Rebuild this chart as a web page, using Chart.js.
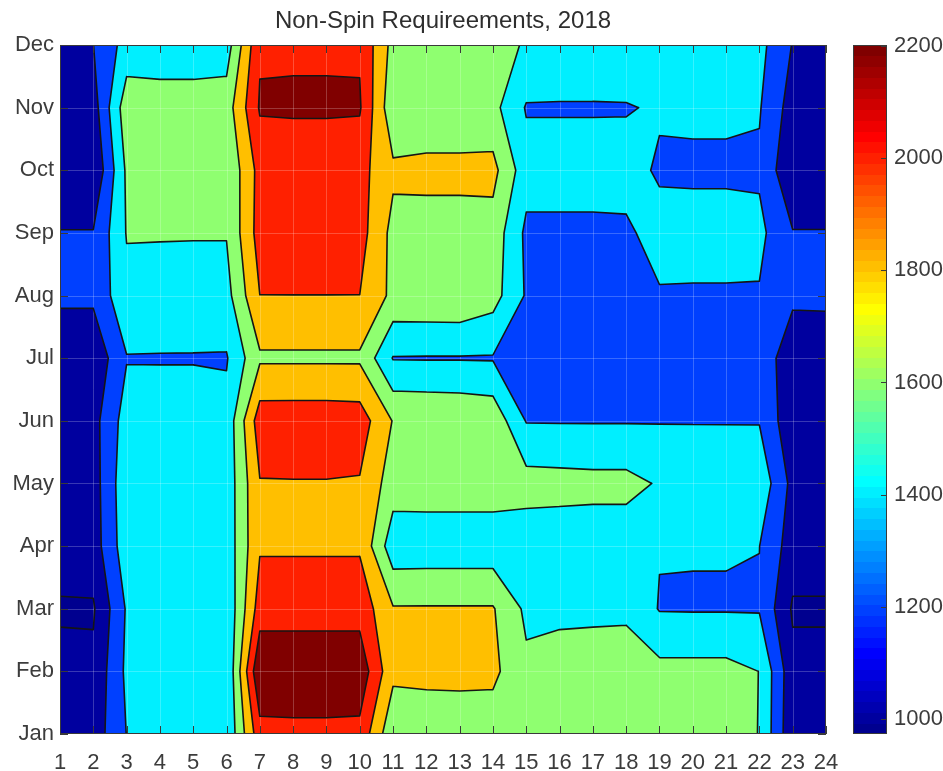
<!DOCTYPE html>
<html>
<head>
<meta charset="utf-8">
<title>Non-Spin Requireements, 2018</title>
<script src="https://cdn.jsdelivr.net/npm/chart.js@4.4.1/dist/chart.umd.min.js"></script>
<style>
  html, body { margin: 0; padding: 0; background: #fff; }
  #chart { display: block; }
</style>
</head>
<body>
<canvas id="chart" width="943" height="771"></canvas>
<script>
"use strict";

const TITLE = 'Non-Spin Requireements, 2018';
const HOURS = [1, 2, 3, 4, 5, 6, 7, 8, 9, 10, 11, 12, 13, 14, 15, 16, 17, 18, 19, 20, 21, 22, 23, 24];
const MONTHS = ['Jan', 'Feb', 'Mar', 'Apr', 'May', 'Jun', 'Jul', 'Aug', 'Sep', 'Oct', 'Nov', 'Dec'];
const LEVELS = [1000, 1200, 1400, 1600, 1800, 2000, 2200];
const CBAR_TICKS = [1000, 1200, 1400, 1600, 1800, 2000, 2200];
const CLIM = [973, 2202];

// MW required per hour of day, one row per month
const jan = [1090, 1090, 1404, 1440, 1450, 1420, 2125, 2130, 2130, 2147, 1640, 1680, 1690, 1690, 1650, 1640, 1640, 1640, 1620, 1650, 1680, 1595, 1040, 1050];
const feb = [1060, 1040, 1440, 1450, 1450, 1405, 2390, 2400, 2400, 2330, 1850, 1850, 1850, 1845, 1640, 1650, 1660, 1670, 1660, 1660, 1660, 1598, 1060, 1060];
const mar = [975, 980, 1420, 1460, 1460, 1430, 2095, 2090, 2090, 2128, 1815, 1815, 1815, 1815, 1560, 1575, 1575, 1575, 1388, 1385, 1385, 1385, 975, 975];
const apr = [1100, 1100, 1520, 1500, 1500, 1470, 1981, 1982, 1982, 1975, 1475, 1480, 1480, 1480, 1480, 1480, 1480, 1480, 1410, 1410, 1410, 1402, 1100, 1100];
const may = [1100, 1110, 1540, 1520, 1510, 1470, 1990, 1992, 1992, 1985, 1700, 1700, 1700, 1700, 1680, 1670, 1660, 1660, 1582, 1560, 1550, 1540, 1140, 1150];
const jun = [1100, 1130, 1490, 1500, 1500, 1460, 2108, 2110, 2110, 2100, 1790, 1780, 1770, 1740, 1390, 1388, 1388, 1388, 1390, 1390, 1390, 1390, 1050, 1080];
const jul = [1045, 1045, 1390, 1388, 1388, 1385, 1770, 1770, 1770, 1770, 1390, 1388, 1388, 1385, 1300, 1300, 1300, 1300, 1300, 1300, 1300, 1300, 1100, 1110];
const aug = [1240, 1240, 1551, 1540, 1530, 1530, 1999, 1999, 1999, 1999, 1750, 1755, 1760, 1680, 1380, 1300, 1300, 1300, 1385, 1385, 1385, 1385, 1230, 1230];
const sep = [1210, 1210, 1610, 1610, 1610, 1610, 2085, 2090, 2090, 2080, 1740, 1740, 1740, 1720, 1360, 1360, 1360, 1370, 1470, 1460, 1460, 1450, 1210, 1210];
const oct = [1015, 1015, 1632, 1640, 1640, 1620, 2070, 2080, 2080, 2070, 1837, 1840, 1840, 1860, 1480, 1480, 1480, 1470, 1375, 1375, 1375, 1370, 1030, 1030];
const nov = [1110, 1110, 1720, 1700, 1700, 1700, 2220, 2225, 2225, 2220, 1650, 1695, 1695, 1660, 1385, 1385, 1385, 1388, 1420, 1425, 1425, 1415, 1110, 1110];
const dec = [1130, 1198, 1478, 1478, 1478, 1500, 2176, 2176, 2176, 2178, 1734, 1720, 1720, 1700, 1575, 1540, 1535, 1535, 1530, 1520, 1500, 1460, 1190, 1190];

const GRID = [jan, feb, mar, apr, may, jun, jul, aug, sep, oct, nov, dec];

const FONT = "'Liberation Sans', Arial, Helvetica, sans-serif";
const TEXT_COLOR = '#3c3c3c';
const AXIS_COLOR = '#3a3a3a';

// 64-step jet colormap
const jetRGB = (k) => {
  const u = i => (i <= 16 ? i / 16 : (i <= 31 ? 1 : (48 - i) / 16));
  const K = k + 1;
  const g = (K >= 9 && K <= 55) ? u(K - 8) : 0;
  const r = K >= 25 ? u(K - 24) : 0;
  const b = K <= 39 ? u(K + 8) : 0;
  return `rgb(${Math.round(r * 255)},${Math.round(g * 255)},${Math.round(b * 255)})`;
};
const colorFor = (v) => {
  let idx = Math.floor((v - CLIM[0]) / (CLIM[1] - CLIM[0]) * 64);
  idx = Math.max(0, Math.min(63, idx));
  return jetRGB(idx);
};

const contourPlugin = {
  id: 'contourFill',
  beforeDatasetsDraw(chart) {
    const { ctx, chartArea } = chart;
    const xs = chart.scales.x;
    const ys = chart.scales.y;
    const px = h => xs.getPixelForValue(h);
    const py = m => ys.getPixelForValue(m);

    ctx.save();
    ctx.beginPath();
    ctx.rect(chartArea.left, chartArea.top, chartArea.width, chartArea.height);
    ctx.clip();

    ctx.fillStyle = colorFor(CLIM[0]);
    ctx.fillRect(chartArea.left, chartArea.top, chartArea.width, chartArea.height);

    const segments = [];
    LEVELS.forEach(level => {
      ctx.beginPath();
      for (let i = 0; i < GRID.length - 1; i++) {
        for (let j = 0; j < HOURS.length - 1; j++) {
          const corners = [
            [HOURS[j], i + 1, GRID[i][j]],
            [HOURS[j + 1], i + 1, GRID[i][j + 1]],
            [HOURS[j + 1], i + 2, GRID[i + 1][j + 1]],
            [HOURS[j], i + 2, GRID[i + 1][j]],
          ];
          const pts = [];
          for (let k = 0; k < 4; k++) {
            const a = corners[k];
            const b = corners[(k + 1) % 4];
            const aIn = a[2] >= level;
            const bIn = b[2] >= level;
            if (aIn) pts.push({ x: a[0], y: a[1], cross: false });
            if (aIn !== bIn) {
              const t = (level - a[2]) / (b[2] - a[2]);
              pts.push({ x: a[0] + t * (b[0] - a[0]), y: a[1] + t * (b[1] - a[1]), cross: true });
            }
          }
          if (pts.length < 3) continue;
          ctx.moveTo(px(pts[0].x), py(pts[0].y));
          for (let k = 1; k < pts.length; k++) ctx.lineTo(px(pts[k].x), py(pts[k].y));
          ctx.closePath();
          for (let k = 0; k < pts.length; k++) {
            const p = pts[k];
            const q = pts[(k + 1) % pts.length];
            if (p.cross && q.cross) segments.push([p, q]);
          }
        }
      }
      ctx.fillStyle = colorFor(level);
      ctx.fill();
    });

    // faint grid
    ctx.strokeStyle = 'rgba(255,255,255,0.22)';
    ctx.lineWidth = 1;
    ctx.beginPath();
    HOURS.forEach(h => {
      const x = Math.round(px(h)) + 0.5;
      ctx.moveTo(x, chartArea.top);
      ctx.lineTo(x, chartArea.bottom);
    });
    MONTHS.forEach((m, i) => {
      const y = Math.round(py(i + 1)) + 0.5;
      ctx.moveTo(chartArea.left, y);
      ctx.lineTo(chartArea.right, y);
    });
    ctx.stroke();

    // contour lines
    ctx.strokeStyle = '#151515';
    ctx.lineWidth = 1.6;
    ctx.lineCap = 'round';
    ctx.lineJoin = 'round';
    ctx.beginPath();
    segments.forEach(([p, q]) => {
      ctx.moveTo(px(p.x), py(p.y));
      ctx.lineTo(px(q.x), py(q.y));
    });
    ctx.stroke();
    ctx.restore();
  },
  afterDraw(chart) {
    const { ctx, chartArea } = chart;
    const xs = chart.scales.x;
    const ys = chart.scales.y;
    const cs = chart.scales.c;
    const tick = 8;

    ctx.save();
    // axes box with inward ticks
    ctx.strokeStyle = AXIS_COLOR;
    ctx.lineWidth = 1;
    ctx.strokeRect(chartArea.left + 0.5, chartArea.top + 0.5, chartArea.width - 1, chartArea.height - 1);
    ctx.beginPath();
    HOURS.forEach(h => {
      const x = Math.round(xs.getPixelForValue(h)) + 0.5;
      ctx.moveTo(x, chartArea.bottom);
      ctx.lineTo(x, chartArea.bottom - tick);
      ctx.moveTo(x, chartArea.top);
      ctx.lineTo(x, chartArea.top + tick);
    });
    MONTHS.forEach((m, i) => {
      const y = Math.round(ys.getPixelForValue(i + 1)) + 0.5;
      ctx.moveTo(chartArea.left, y);
      ctx.lineTo(chartArea.left + tick, y);
      ctx.moveTo(chartArea.right, y);
      ctx.lineTo(chartArea.right - tick, y);
    });
    ctx.stroke();

    // colorbar
    const cx = chartArea.right + 27;
    const cw = 34;
    const step = (CLIM[1] - CLIM[0]) / 64;
    for (let k = 0; k < 64; k++) {
      const yTop = cs.getPixelForValue(CLIM[0] + (k + 1) * step);
      const yBot = cs.getPixelForValue(CLIM[0] + k * step);
      ctx.fillStyle = jetRGB(k);
      ctx.fillRect(cx, Math.floor(yTop), cw, Math.ceil(yBot) - Math.floor(yTop));
    }
    ctx.strokeStyle = AXIS_COLOR;
    ctx.strokeRect(cx + 0.5, chartArea.top + 0.5, cw - 1, chartArea.height - 1);
    ctx.beginPath();
    CBAR_TICKS.forEach(v => {
      const y = Math.round(cs.getPixelForValue(v)) + 0.5;
      ctx.moveTo(cx + cw, y);
      ctx.lineTo(cx + cw - 6, y);
    });
    ctx.stroke();

    // title centred over the plot area
    ctx.fillStyle = '#2e2e2e';
    ctx.font = `24px ${FONT}`;
    ctx.textAlign = 'center';
    ctx.textBaseline = 'middle';
    ctx.fillText(TITLE, (chartArea.left + chartArea.right) / 2, 21);
    ctx.restore();
  },
};

const nodes = GRID.flatMap((row, i) => row.map((v, j) => ({ x: HOURS[j], y: i + 1, v })));
const tickFont = { family: FONT, size: 22 };

// fixed box sizes so the plot area lands where intended
const fixWidth = w => s => { s.width = w; s.paddingTop = 0; s.paddingBottom = 0; };
const fixHeight = h => s => { s.height = h; s.paddingLeft = 0; s.paddingRight = 0; };

document.addEventListener("DOMContentLoaded", function () {
  const canvas = document.getElementById("chart");
  new Chart(canvas, {
    type: 'scatter',
    data: {
      datasets: [{
        data: nodes,
        pointRadius: 0,
        pointHoverRadius: 0,
      }],
    },
    options: {
      responsive: false,
      animation: false,
      devicePixelRatio: 1,
      events: [],
      layout: { padding: { top: 45, right: 0, bottom: 0, left: 0 } },
      plugins: {
        legend: { display: false },
        tooltip: { enabled: false },
        title: { display: false },
      },
      scales: {
        x: {
          type: 'linear',
          position: 'bottom',
          min: 1,
          max: 24,
          afterBuildTicks: s => { s.ticks = HOURS.map(v => ({ value: v })); },
          afterFit: fixHeight(37),
          grid: { display: false, drawTicks: false },
          border: { display: false },
          ticks: { color: TEXT_COLOR, font: tickFont, padding: 16, maxRotation: 0, autoSkip: false },
        },
        y: {
          type: 'linear',
          position: 'left',
          min: 1,
          max: 12,
          afterBuildTicks: s => { s.ticks = MONTHS.map((m, i) => ({ value: i + 1 })); },
          afterFit: fixWidth(60),
          grid: { display: false, drawTicks: false },
          border: { display: false },
          ticks: { color: TEXT_COLOR, font: tickFont, padding: 6, autoSkip: false, callback: v => MONTHS[v - 1] },
        },
        c: {
          type: 'linear',
          position: 'right',
          min: CLIM[0],
          max: CLIM[1],
          afterBuildTicks: s => { s.ticks = CBAR_TICKS.map(v => ({ value: v })); },
          afterFit: fixWidth(117),
          grid: { display: false, drawTicks: false },
          border: { display: false },
          ticks: { color: TEXT_COLOR, font: tickFont, padding: 68, autoSkip: false, callback: v => String(v) },
        },
      },
    },
    plugins: [contourPlugin],
  });
});
</script>
</body>
</html>
